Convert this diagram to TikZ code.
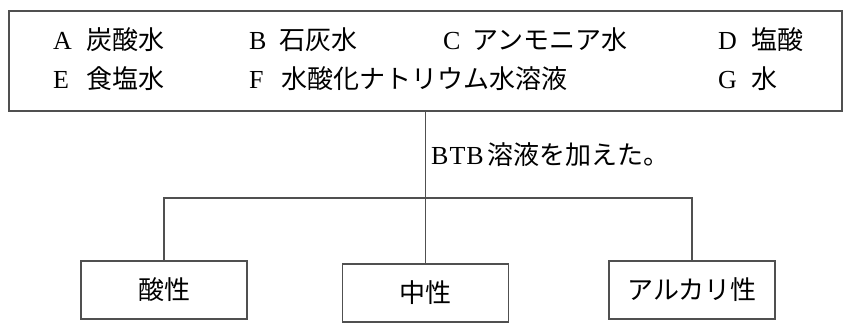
\documentclass[tikz,border=0pt]{standalone}
\usepackage{fontspec}
\setmainfont{Liberation Serif}
\newfontfamily\jp{Noto Sans CJK JP}
\definecolor{ln}{HTML}{505050}
\tikzset{
  lbl/.style={inner sep=0pt, anchor=base west, font=\fontsize{26}{30}\selectfont},
  jtxt/.style={inner sep=0pt, anchor=base west, font=\fontsize{26}{30}\selectfont\jp},
  resbox/.style={draw=ln, line width=1.3pt, minimum width=166pt, minimum height=58pt, inner sep=0pt, font=\fontsize{26}{30}\selectfont\jp},
  conn/.style={draw=ln, line width=1.3pt}
}
\begin{document}
\begin{tikzpicture}[x=1pt,y=-1pt]
\useasboundingbox (0,0) rectangle (848,332);
\node[draw=ln, line width=1.3pt, minimum width=833pt, minimum height=100pt, inner sep=0pt] (top) at (425.5,61) {};
% row 1
\node[lbl] (la) at (53,49) {A};
\node[jtxt] (ta) at (86,49) {炭酸水};
\node[lbl] (lb) at (249,49) {B};
\node[jtxt] (tb) at (279,49) {石灰水};
\node[lbl] (lc) at (443,49) {C};
\node[jtxt] (tc) at (472,49) {アンモニア水};
\node[lbl] (ld) at (718,49) {D};
\node[jtxt] (td) at (751,49) {塩酸};
% row 2
\node[lbl] (le) at (53,88) {E};
\node[jtxt] (te) at (86,88) {食塩水};
\node[lbl] (lf) at (249,88) {F};
\node[jtxt] (tf) at (281,88) {水酸化ナトリウム水溶液};
\node[lbl] (lg) at (718,88) {G};
\node[jtxt] (tg) at (751,88) {水};
% result boxes
\node[resbox] (acid) at (164,290) {酸性};
\node[resbox] (neut) at (425.5,293) {中性};
\node[resbox] (alk) at (692,290) {アルカリ性};
\coordinate (j) at (425.5,198);
\draw[conn] (top.south) -- (neut.north);
\draw[conn] (acid.north) |- (j) -| (alk.north);
\node[inner sep=0pt, anchor=base west, font=\fontsize{26}{30}\selectfont] (btb) at (431,164) {B\kern1ptT\kern1ptB\hspace{4pt}{\jp 溶液を加えた。}};
\end{tikzpicture}
\end{document}
